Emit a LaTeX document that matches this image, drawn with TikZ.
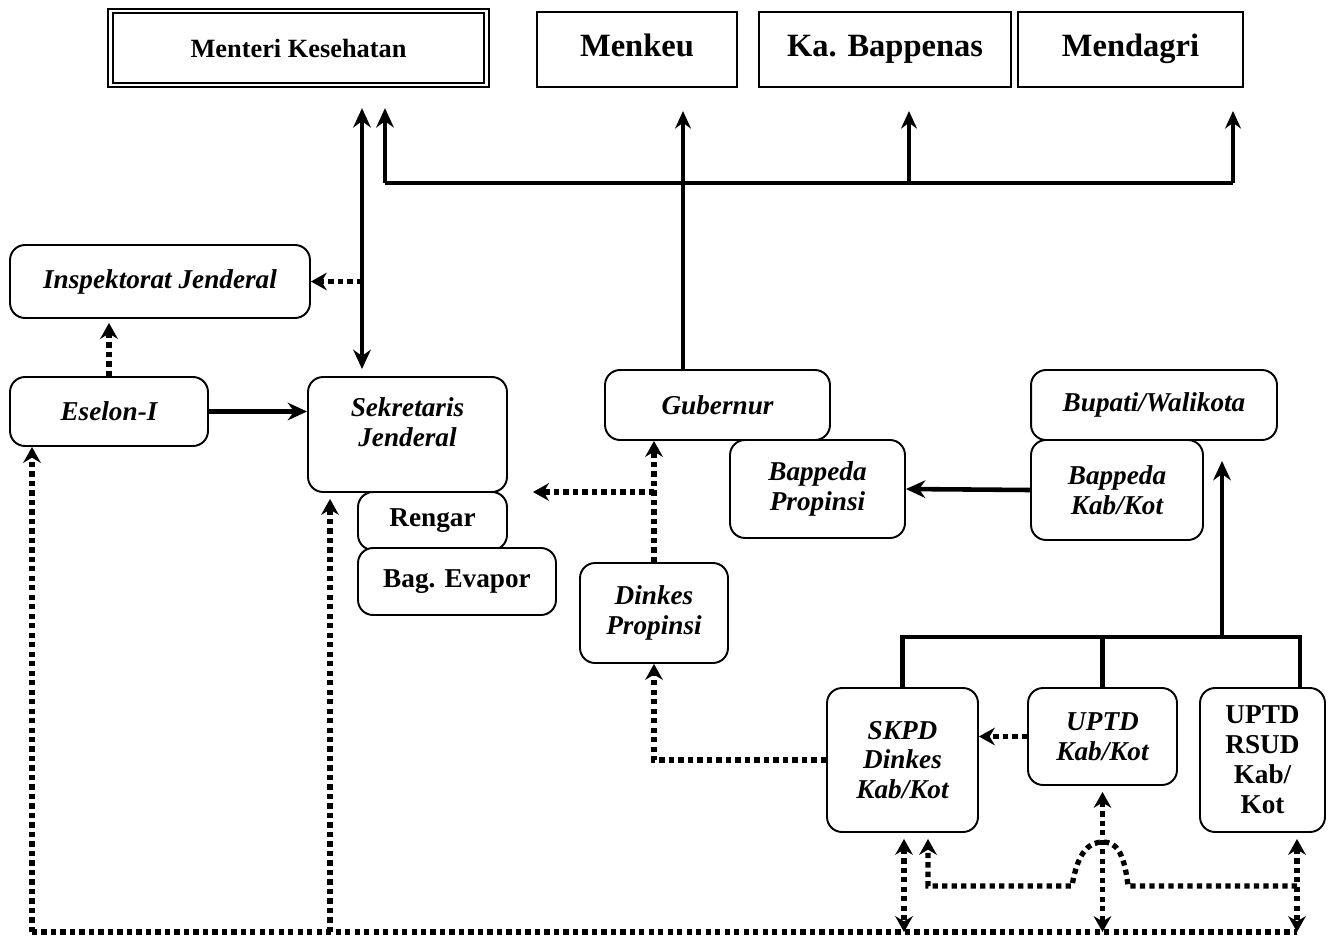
\documentclass[tikz,border=0pt]{standalone}
\usepackage{fontspec}
\setmainfont{Liberation Serif}
\usetikzlibrary{arrows.meta}

\tikzstyle{office} = [draw=black,line width=1.1pt,rectangle,minimum height=1.5cm,text height=12pt,text depth=4pt,font=\bfseries\fontsize{18.5}{20}\selectfont]
\tikzstyle{unit} = [draw=black,line width=1.1pt,rectangle,rounded corners=0.3cm,fill=white,align=center,inner sep=2pt,font=\bfseries\itshape\fontsize{15.5}{17}\selectfont]
\tikzstyle{upright} = [unit,font=\bfseries\fontsize{15.5}{17}\selectfont]
\tikzstyle{solidline} = [line width=2.6pt]
\tikzstyle{feed} = [line width=2.6pt,-{Stealth[length=11pt,width=10pt]}]
\tikzstyle{twoway} = [line width=2.6pt,{Stealth[length=11pt,width=10pt]}-{Stealth[length=11pt,width=10pt]}]
\tikzstyle{thinfeed} = [line width=2pt,-{Stealth[length=10pt,width=9pt]}]
\tikzstyle{dotline} = [line width=3pt,dash pattern=on 3pt off 2.4pt]
\tikzstyle{dotfeed} = [dotline,-{Stealth[length=9pt,width=10pt]}]
\tikzstyle{dotboth} = [dotline,{Stealth[length=9pt,width=10pt]}-{Stealth[length=9pt,width=10pt]}]

\begin{document}
\begin{tikzpicture}[x=0.02cm,y=-0.02cm]
	\useasboundingbox (0,0) rectangle (1335,940);
	\node (menkes) [draw=black,double,double distance=1.3pt,line width=1.3pt,minimum width=7.52cm,minimum height=1.48cm,font=\bfseries\fontsize{15}{17}\selectfont] at (298.5,48) {Menteri Kesehatan};
	\node (menkeu) [office,minimum width=4cm] at (637,49.5) {Menkeu};
	\node (bappenas) [office,minimum width=5.04cm] at (885,49.5) {Ka. Bappenas};
	\node (mendagri) [office,minimum width=4.5cm] at (1130.5,49.5) {Mendagri};
	\node (irjen) [unit,minimum width=6cm,minimum height=1.46cm] at (160,281.5) {Inspektorat Jenderal};
	\node (eselon) [unit,minimum width=3.96cm,minimum height=1.38cm] at (109,411.5) {Eselon-I};
	\node (rengar) [upright,minimum width=2.98cm,minimum height=1.16cm] at (432.5,521) {Rengar};
	\node (evapor) [upright,minimum width=3.96cm,minimum height=1.34cm] at (457,581.5) {Bag. Evapor};
	\node (sekjen) [unit,minimum width=3.98cm,minimum height=2.3cm,text depth=14pt] at (407.5,434.5) {Sekretaris\\Jenderal};
	\node (gub) [unit,minimum width=4.5cm,minimum height=1.4cm] at (717.5,405) {Gubernur};
	\node (bapprop) [unit,minimum width=3.5cm,minimum height=1.96cm] at (817.5,489) {Bappeda\\Propinsi};
	\node (bupati) [unit,minimum width=4.92cm,minimum height=1.4cm] at (1154,405) {Bupati/Walikota};
	\node (bapkab) [unit,minimum width=3.44cm,minimum height=2cm] at (1117,490) {Bappeda\\Kab/Kot};
	\node (dinkesprop) [unit,minimum width=2.96cm,minimum height=2cm] at (654,613) {Dinkes\\Propinsi};
	\node (skpd) [unit,minimum width=3.02cm,minimum height=2.88cm] at (902.5,760) {SKPD\\Dinkes\\Kab/Kot};
	\node (uptd) [unit,minimum width=2.98cm,minimum height=1.94cm] at (1102.5,736.5) {UPTD\\Kab/Kot};
	\node (rsud) [upright,minimum width=2.5cm,minimum height=2.88cm] at (1262.5,760) {UPTD\\RSUD\\Kab/\\Kot};

	\coordinate (vsek) at (362,0);
	\coordinate (vgub) at (683,0);
	\coordinate (busl) at (385,183);
	\coordinate (busm) at (909,183);
	\coordinate (busr) at (1233,183);
	\coordinate (ren) at (533,492);
	\coordinate (kabr) at (1300,637);
	\coordinate (kabup) at (1222,637);
	\coordinate (botl) at (32,932);
	\coordinate (botr) at (1297,932);
	\coordinate (vsek2) at (330,932);
	\coordinate (vskpd) at (904,932);
	\coordinate (vhop) at (928,886);
	\coordinate (hopr) at (1297,886);

	\draw [twoway,shorten <=0.44cm,shorten >=0.14cm] (menkes.south -| vsek) -- (sekjen.north -| vsek);
	\draw [solidline] (busl) -- (busr);
	\draw [feed,shorten >=0.44cm] (busl) -- (menkes.south -| busl);
	\draw [thinfeed,shorten >=0.46cm] (gub.north -| vgub) -- (menkeu.south -| vgub);
	\draw [thinfeed,shorten >=0.46cm] (busm) -- (bappenas.south -| busm);
	\draw [thinfeed,shorten >=0.46cm] (busr) -- (mendagri.south -| busr);

	\draw [dotfeed] (irjen.east -| vsek) -- (irjen.east);
	\draw [dotfeed,shorten >=0.08cm] (eselon.north) -- (irjen.south -| eselon.north);
	\draw [feed] (eselon.east) -- (sekjen.west |- eselon.east);

	\draw [dotfeed] (dinkesprop.north) -- (gub.south -| dinkesprop.north);
	\draw [dotfeed] (dinkesprop.north |- ren) -- (ren);
	\draw [feed] (bapkab.west) -- (bapprop.east);

	\draw [solidline] (skpd.north) |- (kabr) -- (rsud.north -| kabr);
	\draw [solidline] (uptd.north) -- (uptd.north |- kabr);
	\draw [feed,shorten >=0.4cm] (kabup) -- (bupati.south -| kabup);
	\draw [dotfeed] (uptd.west) -- (uptd.west -| skpd.east);
	\draw [dotfeed] (skpd.west) -| (dinkesprop.south);

	\draw [dotline] (botl) -- (botr);
	\draw [dotfeed] (botl) -- (eselon.south -| botl);
	\draw [dotfeed,shorten >=0.12cm] (vsek2) -- (sekjen.south -| vsek2);
	\draw [dotboth,shorten <=0.12cm] (skpd.south -| vskpd) -- (vskpd);
	\draw [dotboth,shorten <=0.12cm] (uptd.south) -- (uptd.south |- botr);
	\draw [dotboth,shorten <=0.12cm] (rsud.south -| botr) -- (botr);
	\draw [dotfeed,shorten >=0.12cm] (hopr) -- (1128,886) .. controls (1124,850) and (1115,842) .. (1103,842) .. controls (1090,842) and (1078,850) .. (1072,886) -- (vhop) -- (skpd.south -| vhop);
\end{tikzpicture}
\end{document}
